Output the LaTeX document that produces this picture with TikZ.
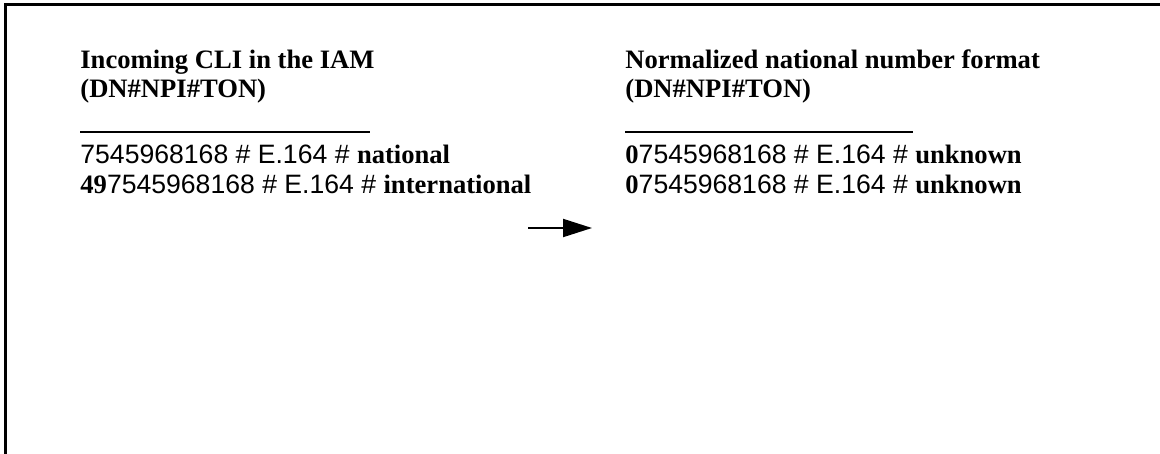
\documentclass[tikz,border=0pt]{standalone}
\usepackage{fontspec}
\setmainfont{Liberation Serif}
\newfontfamily\helv{Liberation Sans}
\usepackage{tikz}
\usetikzlibrary{arrows.meta}

\begin{document}
\begin{tikzpicture}[x=0.5pt,y=0.5pt]
\tikzstyle{every node}+=[inner sep=0pt,anchor=base west,font=\fontsize{13.3}{16}\selectfont]
\tikzstyle{head}=[font=\fontsize{13.3}{16}\selectfont\bfseries]
\tikzstyle{num}=[font=\fontsize{13.3}{16}\selectfont\helv]
\useasboundingbox (0,0) rectangle (1160,-454);
% frame, only top and left edges fall inside the page
\draw [black,line width=1.5pt] (5,-454) -- (5,-5) -- (1160,-5);
% incoming column
\draw (80,-69) node [head] (intitle) {Incoming CLI in the IAM};
\draw (80,-98) node [head] (inform) {(DN\#NPI\#TON)};
\draw [black,line width=1pt] (80,-132) -- (370,-132);
\draw (80,-164) node [num] (in1) {7545968168 \# E.164 \# {\rmfamily\bfseries national}};
\draw (80,-194) node [num] (in2) {{\rmfamily\bfseries 49}7545968168 \# E.164 \# {\rmfamily\bfseries international}};
% normalized column
\draw (625,-69) node [head] (outtitle) {Normalized national number format};
\draw (625,-98) node [head] (outform) {(DN\#NPI\#TON)};
\draw [black,line width=1pt] (625,-132) -- (913,-132);
\draw (625,-164) node [num] (out1) {{\rmfamily\bfseries 0}7545968168 \# E.164 \# {\rmfamily\bfseries unknown}};
\draw (625,-194) node [num] (out2) {{\rmfamily\bfseries 0}7545968168 \# E.164 \# {\rmfamily\bfseries unknown}};
% conversion arrow
\coordinate (from) at (528,-228);
\coordinate (to) at (592,-228);
\draw [black,line width=1pt,-{Triangle[length=14.5pt,width=9pt]}] (from) -- (to);
\end{tikzpicture}
\end{document}
